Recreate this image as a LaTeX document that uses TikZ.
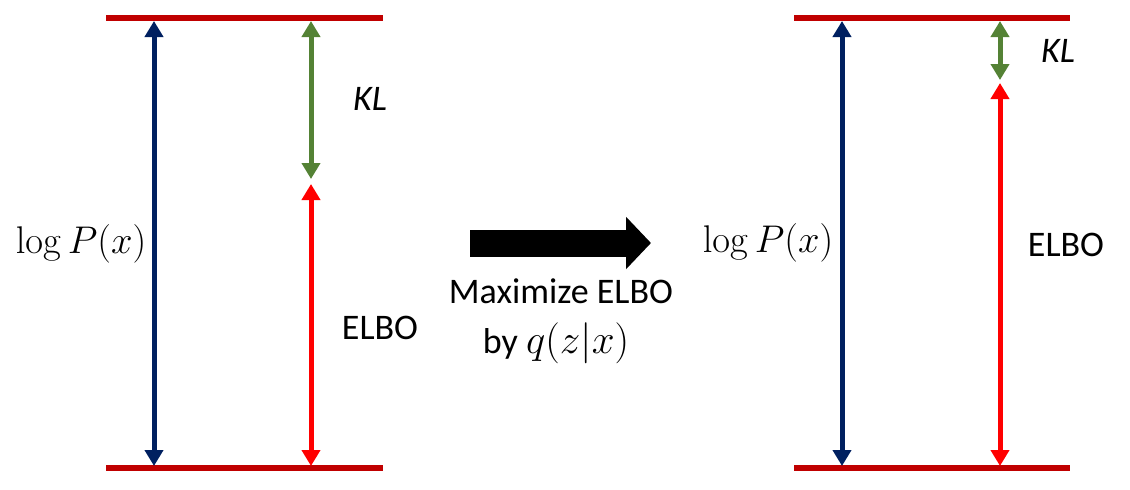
\documentclass[tikz,border=0pt]{standalone}
\usepackage{fix-cm}
\usepackage[no-math]{fontspec}
\setmainfont{Carlito}
\usepackage{tikz}
\usetikzlibrary{arrows.meta, positioning, calc}
\definecolor{bardred}{RGB}{192, 0, 0}
\definecolor{navy1}{RGB}{0, 32, 96}
\definecolor{green1}{RGB}{84, 130, 53}
\definecolor{red1}{RGB}{255, 0, 0}

\begin{document}
\begin{tikzpicture}[x=0.5pt, y=-0.5pt,
    level/.style={draw=bardred, line width=3pt},
    gap/.style={line width=2.5pt, {Triangle[length=8pt,width=9pt]}-{Triangle[length=8pt,width=9pt]}},
    lbl/.style={inner sep=0pt, anchor=base, font=\fontsize{18}{22}\selectfont},
    mlbl/.style={lbl, font=\fontsize{19.3}{23}\selectfont}]
  \useasboundingbox (0,0) rectangle (1130,489);

  % left: before
  \coordinate (ltopA) at (106,18);  \coordinate (ltopB) at (383,18);
  \coordinate (lbotA) at (106,468); \coordinate (lbotB) at (383,468);
  \draw[level] (ltopA) -- (ltopB);
  \draw[level] (lbotA) -- (lbotB);
  \coordinate (lp1) at (154,21);  \coordinate (lp2) at (154,466);
  \coordinate (lk1) at (311,21);  \coordinate (lk2) at (311,179);
  \coordinate (le1) at (311,184); \coordinate (le2) at (311,466);
  \draw[gap, navy1] (lp1) -- (lp2);
  \draw[gap, green1] (lk1) -- (lk2);
  \draw[gap, red1] (le1) -- (le2);
  \node[lbl] (lklabel) at (370,110) {\textit{KL}};
  \node[mlbl] (lplabel) at (81,253) {$\log P(x)$};
  \node[lbl] (lelabel) at (380,339) {ELBO};

  % middle
  \coordinate (mstart) at (470,243); \coordinate (mend) at (651,243);
  \draw[line width=13.5pt, -{Triangle[length=12.5pt,width=25.5pt]}] (mstart) -- (mend);
  \node[lbl] (maxlabel) at (561,303) {Maximize ELBO};
  \node[lbl] (bylabel) at (556,353) {by {\fontsize{20.5}{23}\selectfont$q(z|x)$}};

  % right: after
  \coordinate (rtopA) at (794,18);  \coordinate (rtopB) at (1070,18);
  \coordinate (rbotA) at (794,468); \coordinate (rbotB) at (1070,468);
  \draw[level] (rtopA) -- (rtopB);
  \draw[level] (rbotA) -- (rbotB);
  \coordinate (rp1) at (842,21);   \coordinate (rp2) at (842,466);
  \coordinate (rk1) at (1000,21);  \coordinate (rk2) at (1000,80);
  \coordinate (re1) at (1000,83);  \coordinate (re2) at (1000,466);
  \draw[gap, navy1] (rp1) -- (rp2);
  \draw[gap, green1] (rk1) -- (rk2);
  \draw[gap, red1] (re1) -- (re2);
  \node[lbl] (rklabel) at (1058,62) {\textit{KL}};
  \node[mlbl] (rplabel) at (768,252) {$\log P(x)$};
  \node[lbl] (relabel) at (1066,256) {ELBO};
\end{tikzpicture}
\end{document}
